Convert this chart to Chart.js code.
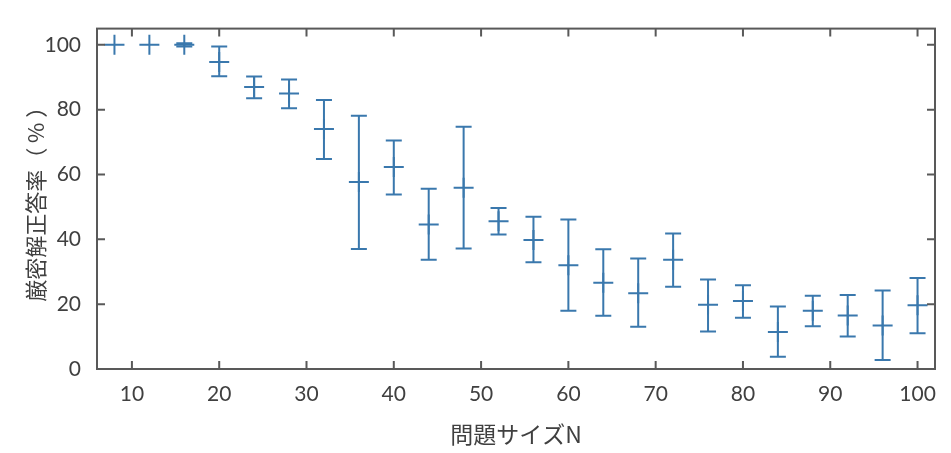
<!DOCTYPE html>
<html>
<head>
<meta charset="utf-8">
<script src="https://cdn.jsdelivr.net/npm/chart.js@4"></script>
<style>
body { margin: 0; background: #fff; }
#wrap { width: 951px; height: 453px; }
</style>
</head>
<body>
<div id="wrap"><canvas id="Grafica" width="951" height="453"></canvas></div>
<script>
// problem size N
const sizes = [8, 12, 16, 20, 24, 28, 32, 36, 40, 44, 48, 52, 56, 60, 64, 68, 72, 76, 80, 84, 88, 92, 96, 100];
// mean / lower / upper of exact-solution accuracy (%)
const means = [100, 100, 100, 94.7, 87, 85, 74, 57.7, 62.3, 44.6, 55.9, 45.6, 39.8, 32, 26.6, 23.4, 33.7, 19.8, 21, 11.4, 18, 16.5, 13.4, 19.7];
const lows  = [100, 100, 99.5, 90.3, 83.5, 80.4, 64.8, 37, 53.8, 33.7, 37.2, 41.5, 32.9, 18, 16.4, 13, 25.4, 11.6, 15.8, 3.8, 13.2, 10, 2.8, 11];
const highs = [100, 100, 100.5, 99.5, 90.2, 89.3, 83, 78.1, 70.5, 55.6, 74.7, 49.7, 47, 46.1, 36.9, 34.1, 41.8, 27.6, 25.8, 19.3, 22.6, 22.8, 24.2, 28.1];
const xTicks = [10, 20, 30, 40, 50, 60, 70, 80, 90, 100];
const yTicks = [0, 20, 40, 60, 80, 100];

const barColor = '#3a78ad';
const frameColor = '#595959';
const cjk = "'Noto Sans CJK JP', 'Noto Sans CJK SC', sans-serif";

const errorBars = {
	id: 'errorBars',
	afterDatasetsDraw(chart) {
		const x = chart.scales.x, y = chart.scales.y;
		const c = chart.ctx;
		c.save();
		c.strokeStyle = barColor;
		c.lineWidth = 2;
		sizes.forEach((n, i) => {
			if (highs[i] === lows[i]) return;
			const px = x.getPixelForValue(n);
			const top = y.getPixelForValue(highs[i]);
			const bot = y.getPixelForValue(lows[i]);
			c.beginPath();
			c.moveTo(px, top); c.lineTo(px, bot);
			c.moveTo(px - 8, top); c.lineTo(px + 8, top);
			c.moveTo(px - 8, bot); c.lineTo(px + 8, bot);
			c.stroke();
		});
		c.restore();
	}
};

const frame = {
	id: 'frame',
	afterDraw(chart) {
		const a = chart.chartArea;
		const x = chart.scales.x, y = chart.scales.y;
		const c = chart.ctx;
		c.save();
		c.strokeStyle = frameColor;
		c.lineWidth = 2;
		c.strokeRect(a.left, a.top, a.right - a.left, a.bottom - a.top);
		c.beginPath();
		xTicks.forEach(v => {
			const px = x.getPixelForValue(v);
			c.moveTo(px, a.bottom); c.lineTo(px, a.bottom - 8);
			c.moveTo(px, a.top); c.lineTo(px, a.top + 8);
		});
		yTicks.forEach(v => {
			if (v === 0) return;
			const py = y.getPixelForValue(v);
			c.moveTo(a.left, py); c.lineTo(a.left + 8, py);
			c.moveTo(a.right, py); c.lineTo(a.right - 8, py);
		});
		c.stroke();
		c.restore();
	}
};

var ctx = document.querySelector('#Grafica').getContext('2d');
var myChart = new Chart(ctx, {
	type: 'scatter',
	data: {
		datasets: [{
			label: '正答率',
			data: sizes.map((n, i) => ({ x: n, y: means[i] })),
			pointStyle: 'cross',
			pointRadius: 10,
			pointBorderWidth: 2,
			borderColor: barColor,
			backgroundColor: barColor
		}]
	},
	options: {
		responsive: false,
		animation: false,
		layout: { padding: { left: 0, right: 16, top: 7, bottom: 0 } },
		plugins: { legend: { display: false }, tooltip: { enabled: false } },
		scales: {
			x: {
				type: 'linear',
				min: 6,
				max: 102,
				afterBuildTicks: s => { s.ticks = xTicks.map(v => ({ value: v })); },
				afterFit: s => { s.height = 84; },
				grid: { display: false, drawTicks: false },
				border: { display: false },
				ticks: { padding: 13, color: '#404040', font: { family: 'Lato', size: 21 } },
				title: {
					display: true,
					text: '問題サイズN',
					color: '#404040',
					padding: { top: 0, bottom: 5 },
					font: { family: cjk, size: 23 }
				}
			},
			y: {
				min: 0,
				max: 105,
				afterBuildTicks: s => { s.ticks = yTicks.map(v => ({ value: v })); },
				afterFit: s => { s.width = 97; },
				grid: { display: false, drawTicks: false },
				border: { display: false },
				ticks: { padding: 16, color: '#404040', font: { family: 'Lato', size: 21 } },
				title: {
					display: true,
					text: '厳密解正答率（ % ）',
					color: '#404040',
					padding: { top: 22, bottom: 0 },
					font: { family: cjk, size: 22 }
				}
			}
		}
	},
	plugins: [errorBars, frame]
});
</script>
</body>
</html>
